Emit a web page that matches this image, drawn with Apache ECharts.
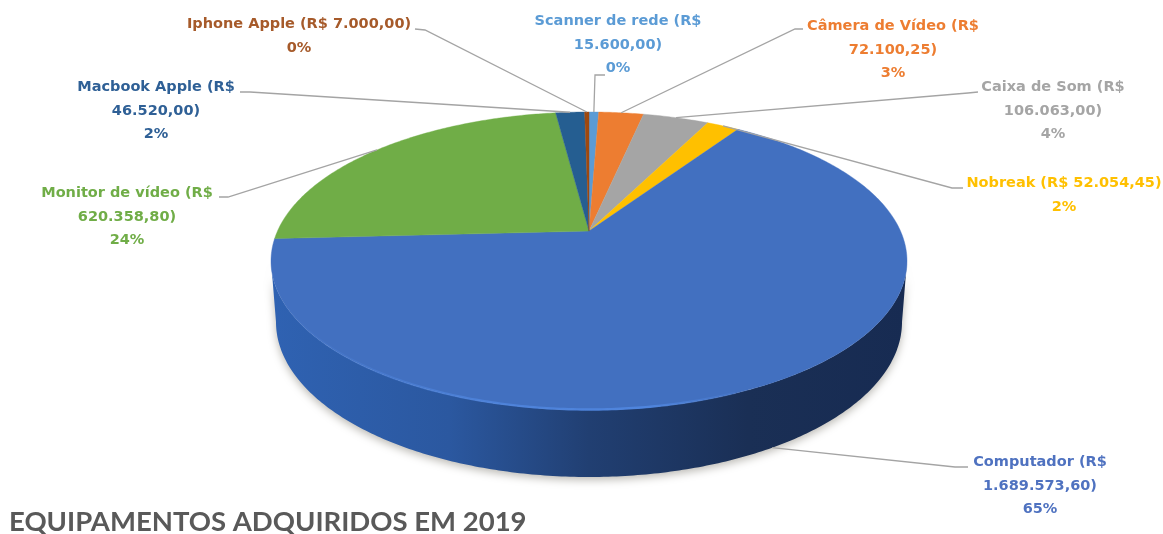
<!DOCTYPE html>
<html>
<head>
<meta charset="utf-8">
<style>html,body{margin:0;padding:0;background:#fff}#c{width:1163px;height:534px}</style>
<script src="https://cdn.jsdelivr.net/npm/echarts@6/dist/echarts.min.js"></script>
</head>
<body>
<div id="c"></div>
<script>
// --- data, clockwise from 12 o'clock ---
var categories = ['Scanner de rede', 'Câmera de Vídeo', 'Caixa de Som', 'Nobreak', 'Computador', 'Monitor de vídeo', 'Macbook Apple', 'Iphone Apple'];
var values = [15600.00, 72100.25, 106063.00, 52054.45, 1689573.60, 620358.80, 46520.00, 7000.00];
var valueLabels = ['Scanner de rede (R$\n15.600,00)', 'Câmera de Vídeo (R$\n72.100,25)', 'Caixa de Som (R$\n106.063,00)', 'Nobreak (R$ 52.054,45)', 'Computador (R$\n1.689.573,60)', 'Monitor de vídeo (R$\n620.358,80)', 'Macbook Apple (R$\n46.520,00)', 'Iphone Apple (R$ 7.000,00)'];
var percentLabels = ['0%', '3%', '4%', '2%', '65%', '24%', '2%', '0%'];
var titleText = 'EQUIPAMENTOS ADQUIRIDOS EM 2019';

// --- styles and layout ---
var colors = ['#5B9BD5', '#ED7D31', '#A5A5A5', '#FFC000', '#4270C0', '#70AD47', '#255E91', '#9E480E'];
var textColors = ['#5B9BD5', '#ED7D31', '#A5A5A5', '#FFC000', '#4F72C0', '#70AD47', '#2F6096', '#A65A2A'];
var top3d = {cx: 589, cy: 261, rx: 318, ry: 149};
var bottom3d = {cx: 589, cy: 322, rx: 313, ry: 155};
var apexOffset = -0.201;
var labelCenter = [[618, 45], [893, 50], [1053, 111], [1064, 195], [1040, 486], [127, 217], [156, 111], [299, 36]];
var leaderStart = [[605, 75], [803, 29], [978, 92], [963, 188], [968, 467], [219, 197], [240, 92], [415, 29]];
var leaderKnee = [[595, 75], [795, 29], [968, 93], [952, 188], [955, 467], [228, 197], [250, 92], [425, 30]];

var total = values.reduce(function (a, b) { return a + b; }, 0);
var cumulative = [0];
values.forEach(function (v, i) { cumulative.push(cumulative[i] + v / total); });

function project(theta, e) {
  var u = Math.sin(theta), v = -Math.cos(theta), d = 1 + apexOffset * v;
  return [
    e.cx + e.rx * u * Math.sqrt(1 - apexOffset * apexOffset) / d,
    e.cy + e.ry * (v + apexOffset) / d
  ];
}
function arc(a, b, e) {
  var pts = [], n = Math.max(2, Math.ceil((b - a) * 90));
  for (var i = 0; i <= n; i++) pts.push(project(a + (b - a) * i / n, e));
  return pts;
}

function renderItem(params, api) {
  var i = params.dataIndex;
  var a = cumulative[i] * 2 * Math.PI;
  var b = a + api.value(0) / total * 2 * Math.PI;
  var mid = (a + b) / 2;
  var kids = [];
  var apex = [top3d.cx, top3d.cy + top3d.ry * apexOffset];

  // visible front wall
  var frontFrom = Math.acos(apexOffset), frontTo = 2 * Math.PI - frontFrom;
  var fa = Math.max(a, frontFrom), fb = Math.min(b, frontTo);
  if (fb > fa) {
    var wall = arc(fa, fb, top3d).concat(arc(fa, fb, bottom3d).reverse());
    kids.push({
      type: 'polygon', shape: {points: wall}, z2: 1,
      style: {
        fill: new echarts.graphic.LinearGradient(0, 0, 1, 0, [
          {offset: 0, color: '#2F62B2'}, {offset: 0.28, color: '#2B58A0'},
          {offset: 0.5, color: '#213F72'}, {offset: 0.75, color: '#1A2F55'},
          {offset: 1, color: '#172B52'}
        ]),
        shadowBlur: 9, shadowColor: 'rgba(60,55,40,0.35)', shadowOffsetY: 3
      }
    });
    // lit rim on the front edge
    var rimFrom = Math.max(a, 2.75), rimTo = Math.min(b, 4.35);
    if (rimTo > rimFrom) {
      kids.push({
        type: 'polyline', shape: {points: arc(rimFrom, rimTo, {cx: top3d.cx, cy: top3d.cy - 0.5, rx: top3d.rx, ry: top3d.ry})}, z2: 3,
        style: {
          fill: null, lineWidth: 2.4,
          stroke: new echarts.graphic.LinearGradient(0, 0, 1, 0, [
            {offset: 0, color: 'rgba(80,135,225,0)'}, {offset: 0.45, color: 'rgba(80,135,225,0.75)'},
            {offset: 0.8, color: 'rgba(80,135,225,0.9)'}, {offset: 1, color: 'rgba(80,135,225,0.15)'}
          ])
        }
      });
    }
  }

  // top face
  kids.push({
    type: 'polygon', shape: {points: [apex].concat(arc(a, b, top3d))}, z2: 2,
    style: {fill: colors[i], stroke: colors[i], lineWidth: 0.4}
  });

  // leader line to the middle of the slice edge
  var onFront = mid > frontFrom && mid < frontTo;
  var end = project(mid, onFront ? bottom3d : top3d);
  kids.push({
    type: 'polyline', shape: {points: [leaderStart[i], leaderKnee[i], end]}, z2: 4,
    style: {fill: null, stroke: '#A4A4A4', lineWidth: 1.3}
  });

  // data label
  kids.push({
    type: 'text', z2: 5, x: labelCenter[i][0], y: labelCenter[i][1],
    style: {
      text: valueLabels[i] + '\n' + percentLabels[i],
      fill: textColors[i], align: 'center', verticalAlign: 'middle',
      fontFamily: '"DejaVu Sans"', fontWeight: 'bold', fontSize: 14.5, lineHeight: 23.5
    }
  });
  return {type: 'group', children: kids};
}

var chart = echarts.init(document.getElementById('c'), null, {renderer: 'canvas'});
chart.setOption({
  backgroundColor: '#fff',
  animation: false,
  title: {
    text: titleText, left: 9, top: 507,
    textStyle: {fontFamily: 'Lato', fontWeight: 'bold', fontSize: 27.5, color: '#595959', lineHeight: 30}, padding: 0
  },
  series: [{
    type: 'custom', coordinateSystem: 'none', silent: true,
    renderItem: renderItem,
    data: values.map(function (v, i) { return {name: categories[i], value: [v]}; })
  }]
});
</script>
</body>
</html>
